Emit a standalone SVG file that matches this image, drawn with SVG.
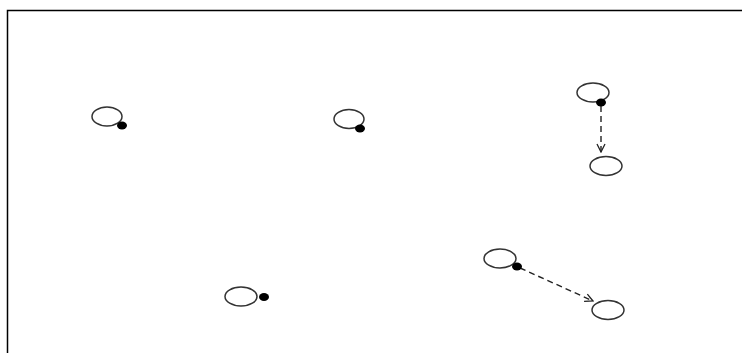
<svg xmlns="http://www.w3.org/2000/svg" width="742" height="353" viewBox="0 0 742 353">
<style>
.node{fill:#fff;stroke:#333;stroke-width:1.5}
.dot{fill:#000;stroke:none}
.edge{stroke:#222;stroke-width:1.4;stroke-dasharray:6,4;fill:none}
.frame{stroke:#000;stroke-width:1.5;fill:none}
</style>
<defs>
<marker id="arr" markerWidth="10" markerHeight="10" refX="9" refY="5" orient="auto" markerUnits="userSpaceOnUse">
<path d="M1,1 L9,5 L1,9" fill="none" stroke="#222" stroke-width="1.3"/>
</marker>
</defs>
<path class="frame" d="M7.5,353 L7.5,10.5 L742,10.5"/>
<g id="connectors">
<line class="edge" x1="601" y1="106" x2="601" y2="152" marker-end="url(#arr)"/>
<line class="edge" x1="520" y1="268" x2="593" y2="301" marker-end="url(#arr)"/>
</g>
<g id="n1"><ellipse class="node" cx="107" cy="116.5" rx="15" ry="9.5"/><ellipse class="dot" cx="122" cy="125.5" rx="5" ry="4"/></g>
<g id="n2"><ellipse class="node" cx="349" cy="119" rx="15" ry="9.5"/><ellipse class="dot" cx="360" cy="128.5" rx="5" ry="4"/></g>
<g id="n3"><ellipse class="node" cx="593" cy="92.5" rx="16" ry="9.5"/><ellipse class="dot" cx="601" cy="102.5" rx="5" ry="4"/></g>
<g id="n4"><ellipse class="node" cx="606" cy="166" rx="16" ry="9.5"/></g>
<g id="n5"><ellipse class="node" cx="241" cy="296.5" rx="16" ry="9.5"/><ellipse class="dot" cx="264" cy="297" rx="5" ry="4"/></g>
<g id="n6"><ellipse class="node" cx="500" cy="258.5" rx="16" ry="9.5"/><ellipse class="dot" cx="517" cy="266.5" rx="5" ry="4"/></g>
<g id="n7"><ellipse class="node" cx="608" cy="310" rx="16" ry="9.5"/></g>
</svg>
